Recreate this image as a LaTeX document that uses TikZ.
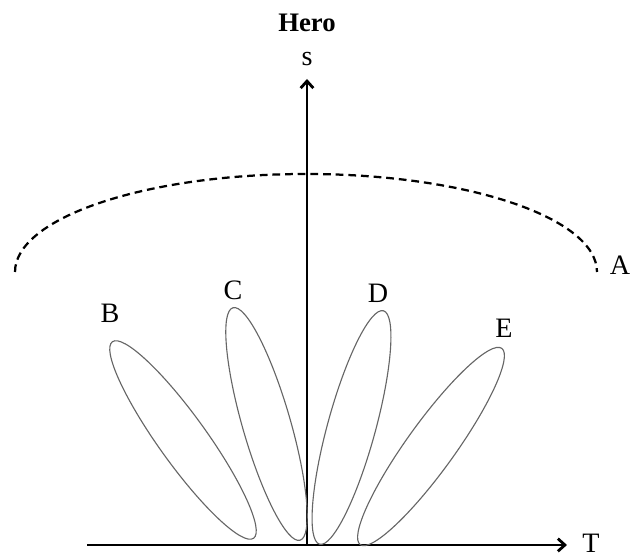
\documentclass[tikz,border=0pt]{standalone}
\usepackage{fontspec}
\setmainfont{Liberation Serif}
\usetikzlibrary{arrows.meta,positioning}

\begin{document}
\begin{tikzpicture}[
 x=0.025cm, y=0.025cm, >={Straight Barb[length=5pt,width=9pt]},
 font=\fontsize{20}{24}\selectfont,
 axis/.style={line width=2pt, ->},
 lobe/.style={draw=black!60, line width=0.8pt},
 border/.style={dashed, line width=1.6pt, dash pattern=on 5.5pt off 3.5pt},
 lbl/.style={inner sep=1pt}]
\useasboundingbox (0,0) rectangle (632,557);
% axes
\coordinate (Tl) at (87,12);
\coordinate (Te) at (567,12);
\coordinate (O) at (307,12);
\coordinate (Se) at (307,478);
\draw[axis] (Tl) -- (Te);
\draw[axis] (O) -- (Se);
\node[lbl] (T) at (591,14) {T};
\node[lbl] (s) at (307,498) {s};
\node[lbl, font=\fontsize{19}{23}\selectfont\bfseries] (hero) at (307,534) {Hero};
% outer boundary A
\draw[border] (15,285) arc[start angle=180, end angle=0, x radius=291, y radius=98];
\node[lbl] (A) at (620,292) {A};
% lobes B--E
\foreach \cx/\cy/\ang in {183/117/125.7, 266.5/133/106.1, 351.5/129.5/74.7, 431/110.5/54.2}
 \draw[lobe, rotate around={\ang:(\cx,\cy)}] (\cx,\cy) ellipse [x radius=121, y radius=24];
\node[lbl] (B) at (110,244) {B};
\node[lbl] (C) at (233,267) {C};
\node[lbl] (D) at (378,264) {D};
\node[lbl] (E) at (504,229) {E};
\end{tikzpicture}
\end{document}
